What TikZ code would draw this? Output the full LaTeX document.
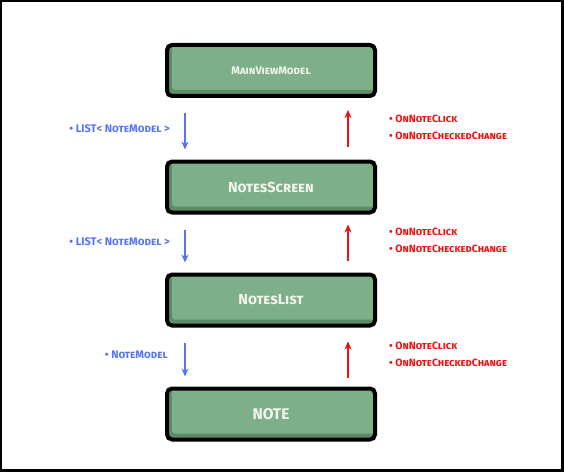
\documentclass[tikz,border=0pt]{standalone}
\usepackage{fontspec}
\setmainfont{Fira Sans}
\usetikzlibrary{arrows.meta}
\definecolor{darkgreen}{HTML}{5E8C68}
\definecolor{facegreen}{HTML}{7DB08A}
\definecolor{boxtext}{HTML}{F4F4EC}
\definecolor{arrowblue}{HTML}{5575F0}
\definecolor{arrowred}{HTML}{EE1111}
\tikzset{
  gbox/.style={draw=black, line width=4pt, rounded corners=5pt, fill=darkgreen,
    minimum width=208pt, minimum height=51pt, text=boxtext, inner sep=0pt,
    path picture={\fill[facegreen, rounded corners=3pt]
      ([xshift=5pt,yshift=6pt]path picture bounding box.south west) rectangle
      (path picture bounding box.north east);}},
  downarrow/.style={draw=arrowblue, line width=2.2pt, -{Stealth[length=8pt,width=7pt]}},
  uparrow/.style={draw=arrowred, line width=2.2pt, -{Stealth[length=8pt,width=7pt]}},
  bluelabel/.style={text=arrowblue, font=\bfseries\fontsize{11}{13}\selectfont, anchor=east, inner sep=0pt},
  redlabel/.style={text=arrowred, font=\bfseries\fontsize{10.5}{17}\selectfont, anchor=west, inner sep=0pt, align=left},
}
\begin{document}
\begin{tikzpicture}[x=1pt,y=1pt]
\fill[black] (0,0) rectangle (564,472);
\fill[white] (2,3) rectangle (561,470);
\useasboundingbox (0,0) rectangle (564,472);
\node[gbox, font=\bfseries\fontsize{11}{13}\selectfont] (mvm) at (271,401.5) {\textsc{MainViewModel}};
\node[gbox, font=\bfseries\fontsize{14.5}{16}\selectfont] (scr) at (271,285) {\textsc{NotesScreen}};
\node[gbox, font=\bfseries\fontsize{14.5}{16}\selectfont] (lst) at (271,172) {\textsc{NotesList}};
\node[gbox, font=\bfseries\fontsize{15.5}{17}\selectfont] (note) at (271,58) {NOTE};
% arrows
\coordinate (b1s) at ([xshift=-86pt,yshift=-15pt]mvm.south);
\coordinate (b1e) at ([xshift=-86pt,yshift=10pt]scr.north);
\coordinate (r1s) at ([xshift=77pt,yshift=12pt]scr.north);
\coordinate (r1e) at ([xshift=77pt,yshift=-12pt]mvm.south);
\coordinate (b2s) at ([xshift=-86pt,yshift=-15pt]scr.south);
\coordinate (b2e) at ([xshift=-86pt,yshift=10pt]lst.north);
\coordinate (r2s) at ([xshift=77pt,yshift=12pt]lst.north);
\coordinate (r2e) at ([xshift=77pt,yshift=-10pt]scr.south);
\coordinate (b3s) at ([xshift=-86pt,yshift=-15pt]lst.south);
\coordinate (b3e) at ([xshift=-86pt,yshift=10pt]note.north);
\coordinate (r3s) at ([xshift=77pt,yshift=9pt]note.north);
\coordinate (r3e) at ([xshift=77pt,yshift=-14pt]lst.south);
\draw[downarrow] (b1s) -- (b1e);
\draw[downarrow] (b2s) -- (b2e);
\draw[downarrow] (b3s) -- (b3e);
\draw[uparrow] (r1s) -- (r1e);
\draw[uparrow] (r2s) -- (r2e);
\draw[uparrow] (r3s) -- (r3e);
% labels
\node[bluelabel] (l1) at (170,343) {\textbullet\ LIST< \textsc{NoteModel} >};
\node[bluelabel] (l2) at (170,230) {\textbullet\ LIST< \textsc{NoteModel} >};
\node[bluelabel] (l3) at (168,117) {\textbullet\ \textsc{NoteModel}};
\node[redlabel] (m1) at (389,345) {\textbullet\ \textsc{OnNoteClick}\\\textbullet\ \textsc{OnNoteCheckedChange}};
\node[redlabel] (m2) at (389,232) {\textbullet\ \textsc{OnNoteClick}\\\textbullet\ \textsc{OnNoteCheckedChange}};
\node[redlabel] (m3) at (389,118) {\textbullet\ \textsc{OnNoteClick}\\\textbullet\ \textsc{OnNoteCheckedChange}};
\end{tikzpicture}
\end{document}
